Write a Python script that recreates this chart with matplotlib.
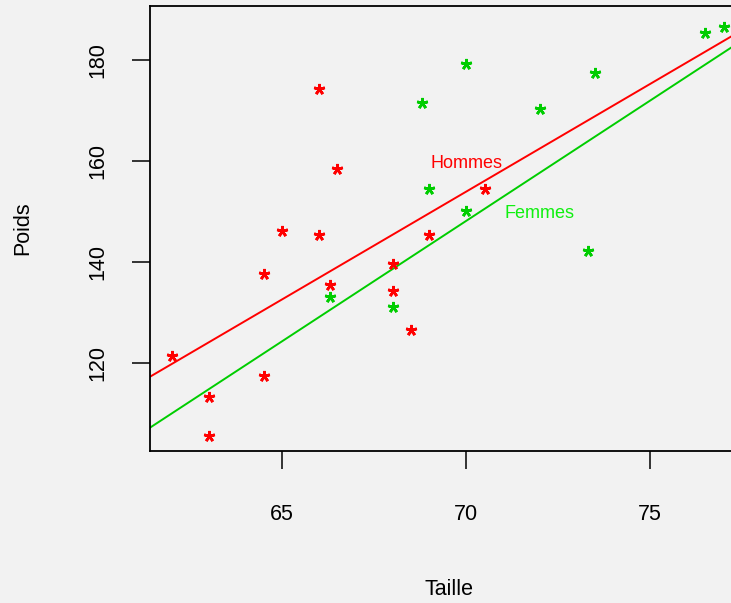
"""
Poids vs Taille, hommes / femmes, avec droites de regression.
"""

import numpy as np
import matplotlib.pyplot as plt

plt.rcParams["font.family"] = ["Liberation Sans", "DejaVu Sans"]

BG = "#f2f2f2"
RED = "#ff0000"
GREEN = "#00cd00"
GREEN_TXT = "#10f010"

# ── Data ───────────────────────────────────────────────────────────────────────
taille_h = [66.0, 66.5, 65.0, 66.0, 64.5, 66.3, 68.0, 68.0, 68.5, 69.0,
            62.0, 64.5, 63.0, 63.0, 70.5]
poids_h = [174.2, 158.4, 146.1, 145.4, 137.5, 135.5, 139.5, 134.3, 126.4, 145.4,
           121.3, 117.3, 113.3, 105.4, 154.5]

taille_f = [66.3, 68.0, 68.8, 70.0, 72.0, 73.5, 76.5, 77.0, 69.0, 70.0, 73.3]
poids_f = [133.1, 131.1, 171.4, 179.3, 170.2, 177.4, 185.3, 186.6, 154.4, 150.1, 142.1]

# regression coefficients (intercept, slope)
coef_h = (-145.0, 4.27)
coef_f = (-185.8, 4.77)

labels = ["Hommes", "Femmes"]
label_pos = [(70.0, 159.5), (72.0, 149.5)]

x_ticks = [65, 70, 75]
y_ticks = [120, 140, 160, 180]

# ── Figure ─────────────────────────────────────────────────────────────────────
W, H = 731, 603
fig = plt.figure(figsize=(W / 100, H / 100), dpi=100, facecolor=BG)
# plot region in pixels: left 150, right 748 (cut off), top 6, bottom 451
ax = fig.add_axes([150 / W, (H - 451) / H, (748 - 150) / W, (451 - 6) / H])
ax.set_facecolor(BG)

xlim = (61.41, 77.66)
ax.set_xlim(*xlim)
ax.set_ylim(102.5, 190.7)

xs = np.linspace(xlim[0], xlim[1], 200)
ax.plot(xs, coef_h[0] + coef_h[1] * xs, color=RED, lw=1.4)
ax.plot(xs, coef_f[0] + coef_f[1] * xs, color=GREEN, lw=1.4)

star = (5, 2, 0)
ax.plot(taille_h, poids_h, linestyle="none", marker=star, ms=8,
        mec=RED, mew=1.9, clip_on=False)
ax.plot(taille_f, poids_f, linestyle="none", marker=star, ms=8,
        mec=GREEN, mew=1.9, clip_on=False)

for lab, (lx, ly), col in zip(labels, label_pos, [RED, GREEN_TXT]):
    ax.text(lx, ly, lab, color=col, fontsize=13, ha="center", va="center")

# ── Axes styling (R-like) ─────────────────────────────────────────────────────
for side in ["left", "top", "bottom", "right"]:
    ax.spines[side].set_linewidth(1.3)
    ax.spines[side].set_color("black")

ax.set_xticks(x_ticks)
ax.set_yticks(y_ticks)
ax.set_yticklabels([str(v) for v in y_ticks], rotation=90, va="center")
ax.tick_params(axis="x", length=13, width=1.1, pad=25, labelsize=15.5)
ax.tick_params(axis="y", length=13, width=1.1, pad=17, labelsize=15.5)

ax.set_xlabel("Taille", fontsize=15.5, labelpad=39)
ax.set_ylabel("Poids", fontsize=15.5, labelpad=39)

fig.savefig("out.png", dpi=100, facecolor=BG)
